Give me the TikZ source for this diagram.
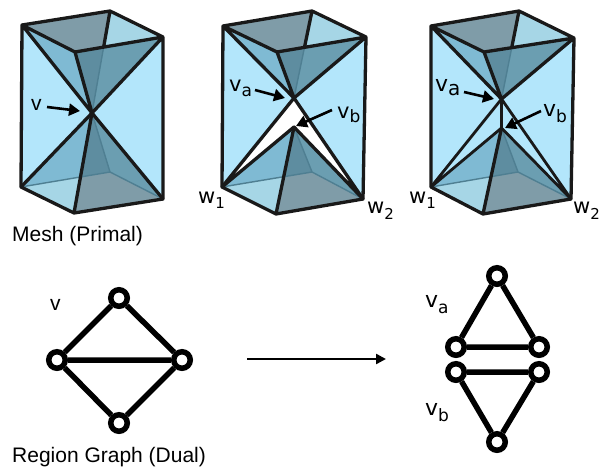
\documentclass[tikz,border=0pt]{standalone}
\usepackage{fontspec}
\setmainfont{Liberation Sans}
\newfontfamily\vfont{DejaVu Sans}
\usetikzlibrary{arrows.meta}
\definecolor{sidec}{HTML}{B3E6FB}
\definecolor{greyc}{HTML}{7F9CA8}
\definecolor{lightc}{HTML}{A6D6E6}
\definecolor{leftc}{HTML}{7FBAD3}
\definecolor{frontc}{HTML}{6B9EB1}
\definecolor{darkc}{HTML}{5E8DA0}
\definecolor{innerc}{HTML}{4F7F92}
\tikzset{
  edge/.style={line width=3.3pt,black!90,line cap=round,line join=round},
  hidden/.style={line width=1.4pt,innerc},
  ring/.style={circle,draw=black,line width=5.5pt,fill=white,minimum size=16.5pt,inner sep=0pt},
  link/.style={line width=5.5pt,black},
  pointer/.style={line width=2.6pt,black,-{Triangle[length=11pt,width=12pt]}},
  plain/.style={font=\fontsize{21}{21}\selectfont,inner sep=0pt,anchor=base west},
  sub/.style={font=\vfont\fontsize{21}{21}\selectfont,inner sep=0pt,anchor=base west},
}
\newcommand{\SubA}[3]{\raisebox{#1}{\fontsize{#2}{#2}\selectfont #3}}
\newcommand{\SetPrism}[9]{%
  \coordinate (#1A) at #2; \coordinate (#1B) at #3; \coordinate (#1C) at #4; \coordinate (#1D) at #5;
  \coordinate (#1E) at #6; \coordinate (#1F) at #7; \coordinate (#1G) at #8; \coordinate (#1H) at #9;
}
\newcommand{\DrawPrism}[1]{%
  \coordinate (#1P) at (intersection of #1B--#1u and #1D--#1C);
  \coordinate (#1Q) at (intersection of #1E--#1H and #1F--#1l);
  \fill[sidec] (#1A)--(#1D)--(#1C)--(#1G)--(#1F)--(#1E)--cycle;
  \fill[greyc] (#1A)--(#1B)--(#1P)--(#1D)--cycle;
  \fill[lightc] (#1B)--(#1C)--(#1P)--cycle;
  \fill[leftc] (#1A)--(#1D)--(#1u)--cycle;
  \fill[frontc] (#1P)--(#1C)--(#1u)--cycle;
  \fill[darkc] (#1D)--(#1P)--(#1u)--cycle;
  \fill[lightc] (#1E)--(#1Q)--(#1F)--cycle;
  \fill[greyc] (#1Q)--(#1H)--(#1G)--(#1F)--cycle;
  \fill[leftc] (#1E)--(#1Q)--(#1l)--cycle;
  \fill[darkc] (#1Q)--(#1H)--(#1l)--cycle;
  \fill[frontc] (#1H)--(#1G)--(#1l)--cycle;
  \draw[hidden] (#1P)--(#1u) (#1E)--(#1H)--(#1G) (#1H)--(#1l);
}
\newcommand{\EdgePrism}[1]{%
  \draw[edge] (#1A)--(#1B)--(#1C)--(#1D)--cycle (#1A)--(#1E)--(#1F)--(#1G)--(#1C) (#1D)--(#1u) (#1B)--(#1P)
    (#1A)--(#1u) (#1C)--(#1u) (#1F)--(#1l);
}
\begin{document}
\begin{tikzpicture}[x=1pt,y=-1pt]
\useasboundingbox (0,0) rectangle (602,468);
% mesh 1
\SetPrism{p}{(22,25)}{(110,11)}{(163,37)}{(75,52)}{(21,187)}{(74,213)}{(163,199)}{(110,172)}
\coordinate (pu) at (92,113); \coordinate (pl) at (92,113);
\DrawPrism{p}
\EdgePrism{p}
\draw[edge] (pE)--(pu)--(pG);
\node[plain] (lv) at (31,111) {v};
\coordinate (pvs) at (47,107);
\draw[pointer] (pvs)--(80,111);
\node[plain] (mesh) at (12,241) {Mesh (Primal)};
% mesh 2
\SetPrism{q}{(223,26)}{(312,11)}{(366,37)}{(277,52)}{(222,187)}{(276,214)}{(363,199)}{(312,172)}
\coordinate (qu) at (294,98); \coordinate (ql) at (294,127);
\DrawPrism{q}
\fill[white] (qE)--(qu)--(qG)--(ql)--cycle;
\EdgePrism{q}
\draw[edge] (qE)--(qu)--(qG)--(ql)--cycle;
\node[sub] (lqa) at (229,92) {v\SubA{-5pt}{17}{a}};
\node[sub] (lqb) at (337,118) {v\SubA{-5pt}{17}{b}};
\node[sub] (lqw) at (198,203) {w\SubA{-5pt}{15}{1}};
\node[sub] (lqx) at (367,213) {w\SubA{-6pt}{15}{2}};
\coordinate (qas) at (255,90); \coordinate (qae) at (285,98);
\coordinate (qbs) at (332,110); \coordinate (qbe) at (296,126);
\draw[pointer] (qas)--(qae);
\draw[pointer] (qbs)--(qbe);
% mesh 3
\SetPrism{r}{(431,26)}{(519,11)}{(574,38)}{(484,52)}{(431,187)}{(483,214)}{(571,199)}{(518,172)}
\coordinate (ru) at (501.5,99); \coordinate (rl) at (501.5,128);
\DrawPrism{r}
\fill[sidec] (rE)--(ru)--(rG)--(rl)--cycle;
\EdgePrism{r}
\draw[edge,line width=2.8pt] (rE)--(ru)--(rG)--(rl)--cycle (ru)--(rl);
\node[sub] (lra) at (435,92) {\fontsize{22}{22}\selectfont v\SubA{-4pt}{20}{a}};
\node[sub] (lrb) at (543,117) {\fontsize{22}{22}\selectfont v\SubA{-5.5pt}{17}{b}};
\node[sub] (lrw) at (409,203) {w\SubA{-5pt}{15}{1}};
\node[sub] (lrx) at (573,213) {w\SubA{-6pt}{15}{2}};
\coordinate (ras) at (464,92); \coordinate (rae) at (494,99);
\coordinate (rbs) at (541,111); \coordinate (rbe) at (505,128);
\draw[pointer] (ras)--(rae);
\draw[pointer] (rbs)--(rbe);
% dual left
\node[plain] (gv) at (50,310) {v};
\node[ring] (n1) at (119,298) {};
\node[ring] (n2) at (57,360) {};
\node[ring] (n3) at (182,360) {};
\node[ring] (n4) at (119,423) {};
\draw[link] (n1)--(n2) (n1)--(n3) (n2)--(n3) (n2)--(n4) (n3)--(n4);
\node[plain] (region) at (12,462) {Region Graph (Dual)};
% arrow
\coordinate (as) at (247,359); \coordinate (ae) at (386,359);
\draw[line width=2.4pt,-{Triangle[length=10pt,width=10pt]}] (as)--(ae);
% dual right
\node[ring] (t) at (497,276) {};
\node[ring] (al) at (456,347) {};
\node[ring] (ar) at (539,347) {};
\node[ring] (bl) at (456,372) {};
\node[ring] (br) at (539,372) {};
\node[ring] (b) at (497,442) {};
\draw[link] (t)--(al) (t)--(ar) (al)--(ar) (bl)--(br) (bl)--(b) (br)--(b);
\node[sub] (lga) at (425,307) {\fontsize{22}{22}\selectfont v\SubA{-6pt}{17}{a}};
\node[sub] (lgb) at (425,415) {\fontsize{22}{22}\selectfont v\SubA{-6.5pt}{17}{b}};
\end{tikzpicture}
\end{document}
